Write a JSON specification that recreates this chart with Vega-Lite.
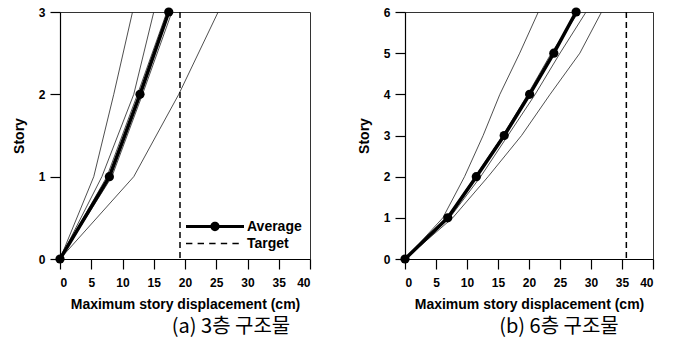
{
  "$schema": "https://vega.github.io/schema/vega-lite/v6.json",
  "padding": {"left": 11, "top": 4, "right": 5, "bottom": 0},
  "background": "white",
  "spacing": 44,
  "datasets": {
    "rec3": [
      {"rec": "A", "story": 0, "d": 0}, {"rec": "A", "story": 1, "d": 5.4}, {"rec": "A", "story": 2, "d": 8.6}, {"rec": "A", "story": 3, "d": 11.6},
      {"rec": "B", "story": 0, "d": 0}, {"rec": "B", "story": 1, "d": 6.7}, {"rec": "B", "story": 2, "d": 11.8}, {"rec": "B", "story": 3, "d": 15.0},
      {"rec": "C", "story": 0, "d": 0}, {"rec": "C", "story": 1, "d": 7.5}, {"rec": "C", "story": 2, "d": 12.4}, {"rec": "C", "story": 3, "d": 17.1},
      {"rec": "E", "story": 0, "d": 0}, {"rec": "E", "story": 1, "d": 8.3}, {"rec": "E", "story": 2, "d": 13.2}, {"rec": "E", "story": 3, "d": 17.9},
      {"rec": "D", "story": 0, "d": 0}, {"rec": "D", "story": 1, "d": 11.8}, {"rec": "D", "story": 2, "d": 19.0}, {"rec": "D", "story": 3, "d": 25.3}
    ],
    "avg3": [
      {"story": 0, "d": 0}, {"story": 1, "d": 7.9}, {"story": 2, "d": 12.8}, {"story": 3, "d": 17.4}
    ],
    "tgt3": [{"d": 19.2}],
    "rec6": [
      {"rec": "A", "story": 0, "d": 0}, {"rec": "A", "story": 1, "d": 6.1}, {"rec": "A", "story": 2, "d": 9.6}, {"rec": "A", "story": 3, "d": 12.6}, {"rec": "A", "story": 4, "d": 15.3}, {"rec": "A", "story": 5, "d": 18.5}, {"rec": "A", "story": 6, "d": 21.5},
      {"rec": "B", "story": 0, "d": 0}, {"rec": "B", "story": 1, "d": 6.8}, {"rec": "B", "story": 2, "d": 11.3}, {"rec": "B", "story": 3, "d": 15.8}, {"rec": "B", "story": 4, "d": 19.8}, {"rec": "B", "story": 5, "d": 23.6}, {"rec": "B", "story": 6, "d": 28.0},
      {"rec": "C", "story": 0, "d": 0}, {"rec": "C", "story": 1, "d": 7.2}, {"rec": "C", "story": 2, "d": 12.2}, {"rec": "C", "story": 3, "d": 16.6}, {"rec": "C", "story": 4, "d": 21.0}, {"rec": "C", "story": 5, "d": 25.0}, {"rec": "C", "story": 6, "d": 29.2},
      {"rec": "D", "story": 0, "d": 0}, {"rec": "D", "story": 1, "d": 7.7}, {"rec": "D", "story": 2, "d": 13.4}, {"rec": "D", "story": 3, "d": 18.8}, {"rec": "D", "story": 4, "d": 23.4}, {"rec": "D", "story": 5, "d": 28.2}, {"rec": "D", "story": 6, "d": 31.7}
    ],
    "avg6": [
      {"story": 0, "d": 0}, {"story": 1, "d": 6.9}, {"story": 2, "d": 11.5}, {"story": 3, "d": 16.0}, {"story": 4, "d": 20.1}, {"story": 5, "d": 24.0}, {"story": 6, "d": 27.6}
    ],
    "tgt6": [{"d": 35.7}],
    "legendkeys": []
  },
  "hconcat": [
    {
      "width": 250,
      "height": 247,
      "title": {"text": "(a) 3층 구조물", "orient": "bottom", "dx": 46},
      "layer": [
        {
          "data": {"name": "rec3"},
          "mark": {"type": "line", "color": "#222", "strokeWidth": 0.8},
          "encoding": {
            "x": {"field": "d", "type": "quantitative", "scale": {"domain": [0, 40], "nice": false}, "axis": {"values": [0, 5, 10, 15, 20, 25, 30, 35, 40], "title": "Maximum story displacement (cm)", "ticks": true, "tickSize": 10, "labelPadding": 8, "titlePadding": 9, "labelOverlap": false}},
            "y": {"field": "story", "type": "quantitative", "scale": {"domain": [0, 3], "nice": false}, "axis": {"values": [0, 1, 2, 3], "format": "d", "title": "Story", "ticks": true, "tickSize": 10, "labelPadding": 5, "titlePadding": 12, "labelOverlap": false}},
            "detail": {"field": "rec"},
            "order": {"field": "story"}
          }
        },
        {
          "data": {"name": "tgt3"},
          "mark": {"type": "rule", "color": "black", "strokeWidth": 1.5, "strokeDash": [6, 4]},
          "encoding": {"x": {"field": "d", "type": "quantitative", "scale": {"domain": [0, 40], "nice": false}, "axis": {"values": [0, 5, 10, 15, 20, 25, 30, 35, 40], "title": "Maximum story displacement (cm)", "ticks": true, "tickSize": 10, "labelPadding": 8, "titlePadding": 9, "labelOverlap": false}}}
        },
        {
          "data": {"name": "avg3"},
          "mark": {"type": "line", "color": "black", "strokeWidth": 3.5, "point": {"filled": true, "size": 85, "color": "black", "opacity": 1}},
          "encoding": {
            "x": {"field": "d", "type": "quantitative", "scale": {"domain": [0, 40], "nice": false}, "axis": {"values": [0, 5, 10, 15, 20, 25, 30, 35, 40], "title": "Maximum story displacement (cm)", "ticks": true, "tickSize": 10, "labelPadding": 8, "titlePadding": 9, "labelOverlap": false}},
            "y": {"field": "story", "type": "quantitative", "scale": {"domain": [0, 3], "nice": false}, "axis": {"values": [0, 1, 2, 3], "format": "d", "title": "Story", "ticks": true, "tickSize": 10, "labelPadding": 5, "titlePadding": 12, "labelOverlap": false}},
            "order": {"field": "story"}
          }
        },
        {
          "data": {"name": "legendkeys"},
          "mark": {"type": "point", "filled": true, "color": "black", "opacity": 1, "strokeWidth": 0},
          "encoding": {
            "shape": {
              "field": "series",
              "type": "nominal",
              "scale": {
                "domain": ["Average", "Target"],
                "range": [
                  "M-1,-0.055H1V0.055H-1Z M-0.16,0A0.16,0.16 0 1,1 0.16,0A0.16,0.16 0 1,1 -0.16,0Z",
                  "M-1,-0.027H-0.78V0.027H-1Z M-0.6,-0.027H-0.38V0.027H-0.6Z M-0.2,-0.027H0.02V0.027H-0.2Z M0.2,-0.027H0.42V0.027H0.2Z M0.6,-0.027H0.82V0.027H0.6Z"
                ]
              },
              "legend": {
                "title": null,
                "orient": "bottom-right",
                "offset": 8,
                "symbolSize": 3364,
                "clipHeight": 15,
                "rowPadding": 2,
                "labelOffset": 3,
                "labelFont": "Liberation Sans",
                "labelFontSize": 14,
                "labelFontWeight": "bold",
                "labelColor": "black",
                "symbolStrokeWidth": 0,
                "symbolFillColor": "black",
                "symbolOpacity": 1
              }
            }
          }
        }
      ]
    },
    {
      "width": 248,
      "height": 247,
      "title": {"text": "(b) 6층 구조물", "orient": "bottom", "dx": 30},
      "layer": [
        {
          "data": {"name": "rec6"},
          "mark": {"type": "line", "color": "#222", "strokeWidth": 0.8},
          "encoding": {
            "x": {"field": "d", "type": "quantitative", "scale": {"domain": [0, 40], "nice": false}, "axis": {"values": [0, 5, 10, 15, 20, 25, 30, 35, 40], "title": "Maximum story displacement (cm)", "ticks": true, "tickSize": 10, "labelPadding": 8, "titlePadding": 9, "labelOverlap": false}},
            "y": {"field": "story", "type": "quantitative", "scale": {"domain": [0, 6], "nice": false}, "axis": {"values": [0, 1, 2, 3, 4, 5, 6], "format": "d", "title": "Story", "ticks": true, "tickSize": 10, "labelPadding": 5, "titlePadding": 12, "labelOverlap": false}},
            "detail": {"field": "rec"},
            "order": {"field": "story"}
          }
        },
        {
          "data": {"name": "tgt6"},
          "mark": {"type": "rule", "color": "black", "strokeWidth": 1.5, "strokeDash": [6, 4]},
          "encoding": {"x": {"field": "d", "type": "quantitative", "scale": {"domain": [0, 40], "nice": false}, "axis": {"values": [0, 5, 10, 15, 20, 25, 30, 35, 40], "title": "Maximum story displacement (cm)", "ticks": true, "tickSize": 10, "labelPadding": 8, "titlePadding": 9, "labelOverlap": false}}}
        },
        {
          "data": {"name": "avg6"},
          "mark": {"type": "line", "color": "black", "strokeWidth": 3.5, "point": {"filled": true, "size": 85, "color": "black", "opacity": 1}},
          "encoding": {
            "x": {"field": "d", "type": "quantitative", "scale": {"domain": [0, 40], "nice": false}, "axis": {"values": [0, 5, 10, 15, 20, 25, 30, 35, 40], "title": "Maximum story displacement (cm)", "ticks": true, "tickSize": 10, "labelPadding": 8, "titlePadding": 9, "labelOverlap": false}},
            "y": {"field": "story", "type": "quantitative", "scale": {"domain": [0, 6], "nice": false}, "axis": {"values": [0, 1, 2, 3, 4, 5, 6], "format": "d", "title": "Story", "ticks": true, "tickSize": 10, "labelPadding": 5, "titlePadding": 12, "labelOverlap": false}},
            "order": {"field": "story"}
          }
        }
      ]
    }
  ],
  "resolve": {"scale": {"shape": "independent"}, "legend": {"shape": "independent"}},
  "config": {
    "view": {"stroke": "#333", "strokeWidth": 1},
    "axis": {
      "grid": false,
      "tickColor": "black",
      "tickWidth": 1.2,
      "domainColor": "black",
      "domainWidth": 1.2,
      "labelFont": "Liberation Sans",
      "labelFontSize": 12,
      "labelFontWeight": "bold",
      "labelColor": "black",
      "titleFont": "Liberation Sans",
      "titleFontSize": 14,
      "titleFontWeight": "bold",
      "titleColor": "black"
    },
    "title": {"font": "Noto Sans CJK KR", "fontSize": 20, "fontWeight": "normal", "color": "black", "offset": 6}
  }
}
